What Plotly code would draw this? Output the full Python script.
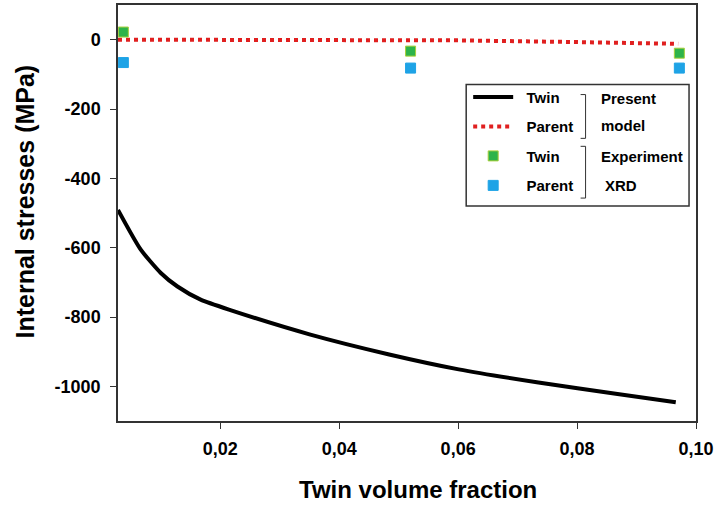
import plotly.graph_objects as go

# ---- data ----
twin_model_x = [0.0028, 0.0066, 0.0100, 0.0128, 0.0167, 0.0217, 0.0350, 0.0484, 0.0601, 0.0735, 0.0868, 0.0966]
twin_model_y = [-491, -605, -673, -712, -750, -780, -850, -908, -951, -989, -1022, -1046]

parent_model_x = [0.0028, 0.02, 0.04, 0.06, 0.08, 0.097]
parent_model_y = [0, 0, 0, -2, -7, -12]

exp_x = [0.0037, 0.052, 0.0972]
twin_exp_y = [22, -33, -39]
parent_exp_y = [-66, -82, -82]

x_tickvals = [0.02, 0.04, 0.06, 0.08, 0.10]
x_ticktext = ["0,02", "0,04", "0,06", "0,08", "0,10"]
y_tickvals = [0, -200, -400, -600, -800, -1000]
y_ticktext = ["0", "-200", "-400", "-600", "-800", "-1000"]

FONT = "Liberation Sans, Arial, sans-serif"
PAD = "\u00a0\u00a0"

def bold(size):
    return dict(size=size, color="black", family=FONT, weight="bold")

fig = go.Figure()
fig.add_trace(go.Scatter(x=twin_model_x, y=twin_model_y, mode="lines", name=PAD + "Twin",
                         line=dict(color="black", width=4, shape="spline", smoothing=0.6),
                         legendgroup="a"))
fig.add_trace(go.Scatter(x=parent_model_x, y=parent_model_y, mode="lines", name=PAD + "Parent",
                         line=dict(color="#e02020", width=4, dash="4px,4px"),
                         legendgroup="b"))
fig.add_trace(go.Scatter(x=exp_x, y=twin_exp_y, mode="markers", name=PAD + "Twin",
                         marker=dict(symbol="square", size=10, color="#2db34a",
                                     line=dict(color="#a8cf3a", width=1)),
                         legendgroup="c"))
fig.add_trace(go.Scatter(x=exp_x, y=parent_exp_y, mode="markers", name=PAD + "Parent",
                         marker=dict(symbol="square", size=10, color="#1ea3e6",
                                     line=dict(color="#1ea3e6", width=1)),
                         legendgroup="d"))

def px_x(p):
    return (p - 118) / 581.0

def px_y(p):
    return 1 - (p - 3) / 418.0

shapes = [
    dict(type="rect", xref="paper", yref="paper", x0=px_x(468), x1=px_x(692),
         y0=px_y(205), y1=px_y(83), line=dict(color="#333", width=1.5), fillcolor="rgba(0,0,0,0)"),
    dict(type="path", xref="paper", yref="paper",
         path=f"M {px_x(583)} {px_y(93)} L {px_x(588)} {px_y(93)} L {px_x(588)} {px_y(137)} L {px_x(583)} {px_y(137)}",
         line=dict(color="#333", width=1)),
    dict(type="path", xref="paper", yref="paper",
         path=f"M {px_x(583)} {px_y(145)} L {px_x(588)} {px_y(145)} L {px_x(588)} {px_y(197)} L {px_x(583)} {px_y(197)}",
         line=dict(color="#333", width=1)),
]

annotations = [
    dict(text="Present", x=px_x(601), y=px_y(97), xref="paper", yref="paper",
         xanchor="left", yanchor="middle", showarrow=False, font=bold(15)),
    dict(text="model", x=px_x(601), y=px_y(124), xref="paper", yref="paper",
         xanchor="left", yanchor="middle", showarrow=False, font=bold(15)),
    dict(text="Experiment", x=px_x(601), y=px_y(155), xref="paper", yref="paper",
         xanchor="left", yanchor="middle", showarrow=False, font=bold(15)),
    dict(text="XRD", x=px_x(606), y=px_y(184), xref="paper", yref="paper",
         xanchor="left", yanchor="middle", showarrow=False, font=bold(15)),
    dict(text="Internal stresses (MPa)", x=px_x(25), y=px_y(200), xref="paper", yref="paper",
         xanchor="center", yanchor="middle",
         showarrow=False, textangle=-90, font=bold(25)),
    dict(text="Twin volume fraction", x=px_x(420), y=px_y(490), xref="paper", yref="paper",
         xanchor="center", yanchor="middle", showarrow=False, font=bold(24)),
]

fig.update_layout(
    width=717, height=507,
    margin=dict(l=118, r=18, t=3, b=86),
    plot_bgcolor="white", paper_bgcolor="white",
    font=dict(family=FONT, color="black"),
    showlegend=True,
    legend=dict(x=px_x(470), y=px_y(79), xanchor="left", yanchor="top",
                bgcolor="rgba(0,0,0,0)", borderwidth=0,
                font=bold(15),
                traceorder="grouped", tracegroupgap=7, itemwidth=40),
    shapes=shapes,
    annotations=annotations,
    xaxis=dict(range=[0.0028, 0.10], tickvals=x_tickvals, ticktext=x_ticktext,
               showgrid=False, zeroline=False, showline=True, linecolor="#333", linewidth=1.5,
               mirror=True, ticks="outside", ticklen=6, tickcolor="#333",
               tickfont=bold(18), ticklabelstandoff=5),
    yaxis=dict(range=[-1100, 100], tickvals=y_tickvals, ticktext=y_ticktext,
               showgrid=False, zeroline=False, showline=True, linecolor="#333", linewidth=1.5,
               mirror=True, ticks="outside", ticklen=6, tickcolor="#333",
               tickfont=bold(18), ticklabelstandoff=6),
)

fig.write_html("out.html", config={"displayModeBar": False},
               post_script="document.body.style.margin='0';document.body.style.overflow='hidden';")
